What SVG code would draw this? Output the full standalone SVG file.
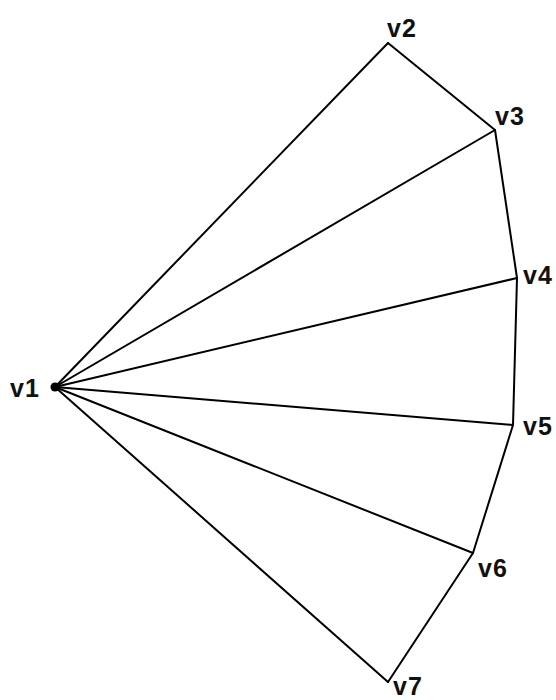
<svg xmlns="http://www.w3.org/2000/svg" width="556" height="700" viewBox="0 0 556 700">
<style>
.e{stroke:#000;stroke-width:2;fill:none;stroke-linecap:round}
.l{font-family:"Liberation Sans",Arial,sans-serif;font-size:25px;font-weight:bold;fill:#111;letter-spacing:1px}
</style>
<rect width="556" height="700" fill="#fff"/>
<g id="edges">
<line class="e" x1="55" y1="387" x2="388" y2="43"/>
<line class="e" x1="55" y1="387" x2="495" y2="130"/>
<line class="e" x1="55" y1="387" x2="517" y2="278"/>
<line class="e" x1="55" y1="387" x2="513" y2="425"/>
<line class="e" x1="55" y1="387" x2="473" y2="553"/>
<line class="e" x1="55" y1="387" x2="388" y2="682"/>
<line class="e" x1="388" y1="43" x2="495" y2="130"/>
<line class="e" x1="495" y1="130" x2="517" y2="278"/>
<line class="e" x1="517" y1="278" x2="513" y2="425"/>
<line class="e" x1="513" y1="425" x2="473" y2="553"/>
<line class="e" x1="473" y1="553" x2="388" y2="682"/>
</g>
<g id="v1"><circle cx="55" cy="387" r="4.5" fill="#000"/><text class="l" x="10" y="397">v1</text></g>
<g id="v2"><text class="l" x="387" y="37">v2</text></g>
<g id="v3"><text class="l" x="495" y="125">v3</text></g>
<g id="v4"><text class="l" x="523" y="284">v4</text></g>
<g id="v5"><text class="l" x="523" y="435">v5</text></g>
<g id="v6"><text class="l" x="478" y="577">v6</text></g>
<g id="v7"><text class="l" x="393" y="695">v7</text></g>
</svg>
